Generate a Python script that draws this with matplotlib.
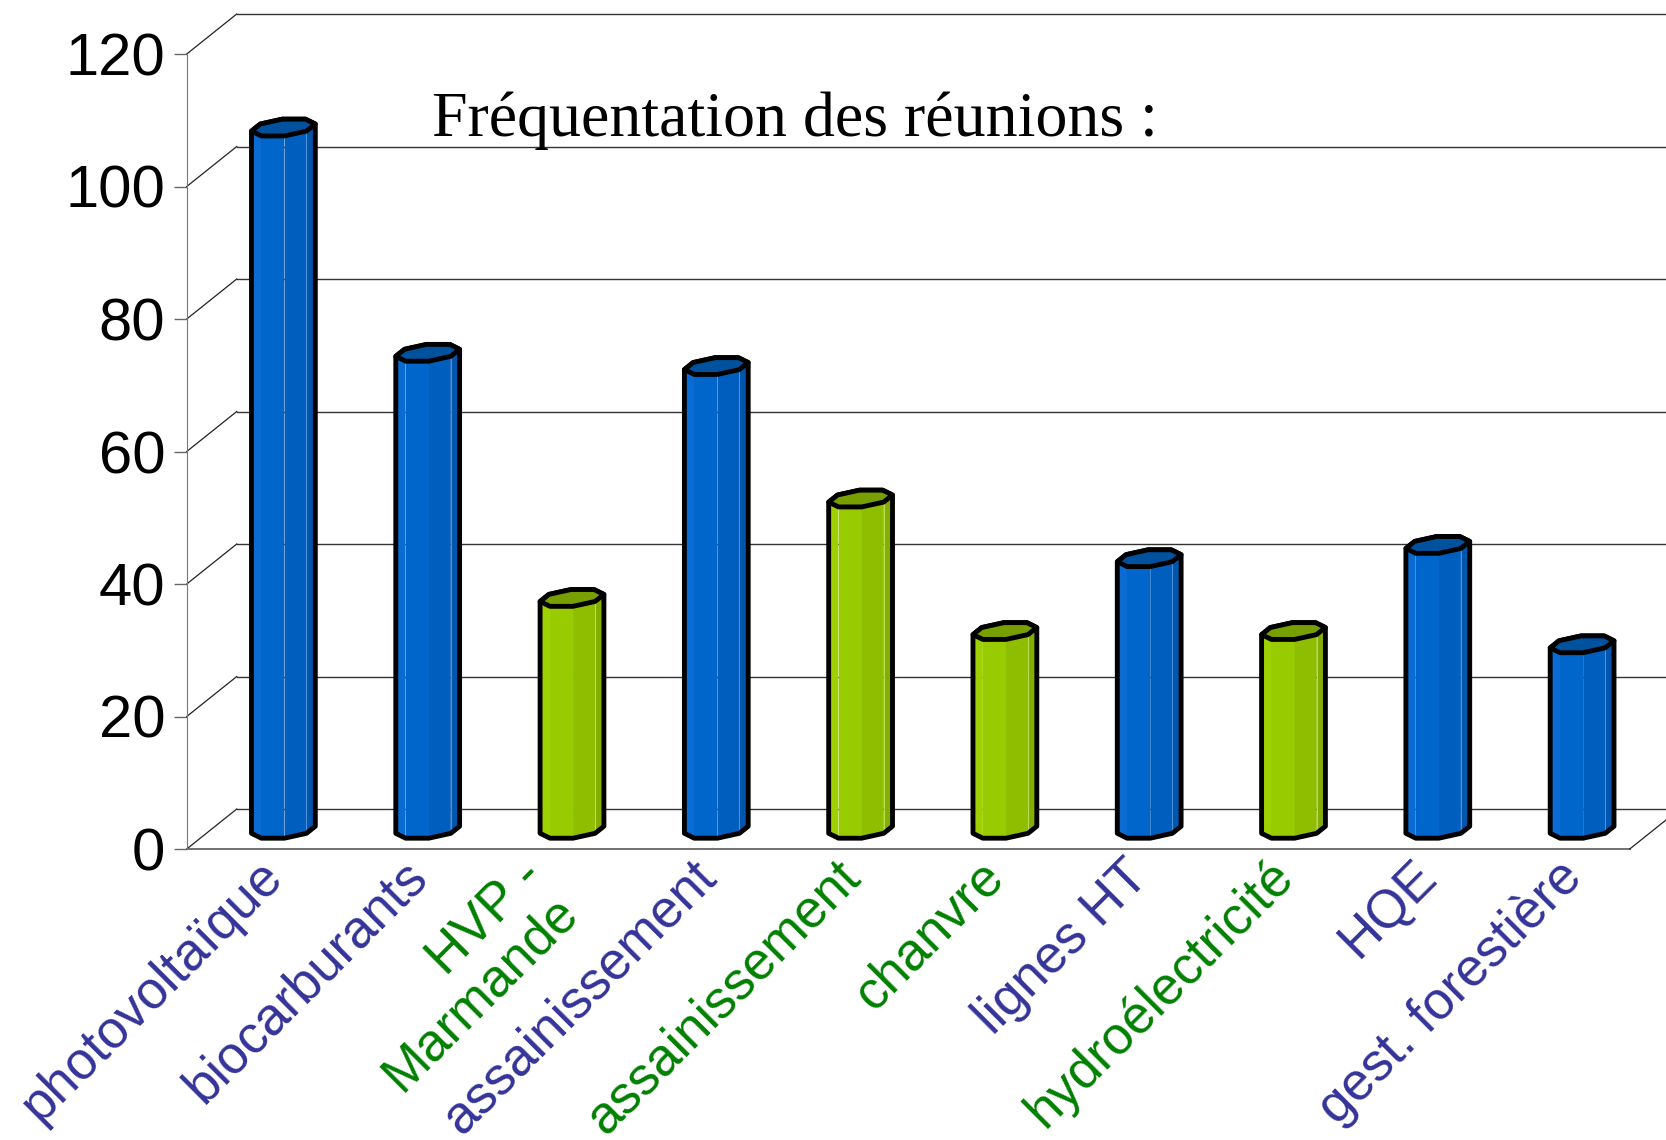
import matplotlib
matplotlib.use("Agg")
import matplotlib.pyplot as plt
from matplotlib.patches import Polygon

# --- data -------------------------------------------------------------
categories = ["photovoltaïque", "biocarburants", "HVP -\nMarmande",
              "assainissement", "assainissement", "chanvre", "lignes HT",
              "hydroélectricité", "HQE", "gest. forestière"]
attendance = [106, 72, 35, 70, 50, 30, 41, 30, 43, 28]
groups = ["blue", "blue", "green", "blue", "green",
          "green", "blue", "green", "blue", "blue"]
y_ticks = [0, 20, 40, 60, 80, 100, 120]
title = "Fréquentation des réunions :"

# colours per group: faces left->right, highlight line, top cap
palette = {
    "blue": dict(faces=["#0a6bd2", "#0066cc", "#005fbe", "#0056ad"],
                 line="#4d8fd6", top="#00529f", text="#333399"),
    "green": dict(faces=["#9fd000", "#99cc00", "#8fbd00", "#84ae00"],
                  line="#b8dd55", top="#779f00", text="#008000"),
}

# --- fake 3d geometry (data units) -------------------------------------
PX_CAT = 144.3        # pixels per category
PX_VAL = 6.625        # pixels per value unit
DX = 50 / PX_CAT      # full depth shift in x
DY = 40 / PX_VAL      # full depth shift in y
D0, BAR_D = 0.27, 0.42
BAR_W = 55 / PX_CAT
BAR_X0 = -27 / PX_CAT
CUT = 0.29

fig = plt.figure(figsize=(16.66, 11.40), dpi=100)
ax = fig.add_axes([0, 0, 1, 1])
ax.set_xlim(-258.9 / PX_CAT, (1666 - 258.9) / PX_CAT)
ax.set_ylim((849 - 1140) / PX_VAL, 849 / PX_VAL)
ax.patch.set_alpha(0)

left, right = -0.5, len(categories) - 0.5

# back wall gridlines + diagonals to the front axis
for v in y_ticks:
    ax.plot([left + DX, right + DX + 1], [v + DY, v + DY],
            color="#333333", lw=1.0, zorder=1)
    ax.plot([left, left + DX], [v, v + DY], color="#222222", lw=0.9, zorder=1)
# floor
ax.plot([left, right], [0, 0], color="#666666", lw=1.3, zorder=1)
ax.plot([right, right + DX], [0, DY], color="#222222", lw=0.9, zorder=1)

# front y axis
for s in ["top", "right", "bottom"]:
    ax.spines[s].set_visible(False)
ax.spines["left"].set_position(("data", left))
ax.spines["left"].set_bounds(0, 120)
ax.spines["left"].set_color("#777777")
ax.set_yticks(y_ticks)
ax.tick_params(axis="y", direction="out", length=9.5, width=1, color="#666666",
               pad=6, labelsize=43)
for lab in ax.get_yticklabels():
    lab.set_fontfamily("Liberation Sans")
ax.set_xticks([])


def draw_bar(i, value, pal):
    uv = [(CUT, 0), (1 - CUT, 0), (1, CUT), (1, 1 - CUT),
          (1 - CUT, 1), (CUT, 1), (0, 1 - CUT), (0, CUT)]
    x0 = i + BAR_X0
    base = [(x0 + u * BAR_W + (D0 + v * BAR_D) * DX, (D0 + v * BAR_D) * DY)
            for u, v in uv]
    bot = base
    top = [(x, y + value) for x, y in base]

    # visible side faces: H-A, A-B, B-C, C-D
    for k, (a, b) in enumerate([(7, 0), (0, 1), (1, 2), (2, 3)]):
        ax.add_patch(Polygon([bot[a], bot[b], top[b], top[a]], closed=True,
                             facecolor=pal["faces"][k], edgecolor="none",
                             zorder=3))
    # thin highlight line
    ax.plot([bot[2][0], top[2][0]], [bot[2][1], top[2][1]],
            color=pal["line"], lw=0.8, zorder=4)

    outline = [bot[7], bot[0], bot[1], bot[2], bot[3],
               top[3], top[4], top[5], top[6], top[7]]
    ax.add_patch(Polygon(outline, closed=True, facecolor="none",
                         edgecolor="black", lw=3.5, joinstyle="round",
                         zorder=5))
    ax.add_patch(Polygon(top, closed=True, facecolor=pal["top"],
                         edgecolor="black", lw=3.5, joinstyle="round",
                         zorder=6))


for i, (val, g) in enumerate(zip(attendance, groups)):
    draw_bar(i, val, palette[g])

# category labels (multi-line blocks sit a bit further left)
for i, (name, g) in enumerate(zip(categories, groups)):
    extra = name.count("\n") * 0.2
    ax.text(i - 0.01 - extra, -0.3, name, rotation=45, rotation_mode="anchor",
            ha="right", va="top", fontsize=38, family="Liberation Sans",
            color=palette[g]["text"], linespacing=1.0)

fig.text(432 / 1666, 1 - 136 / 1140, title, family="Liberation Serif",
         fontsize=46, va="baseline", ha="left")

fig.savefig("out.png", dpi=100, facecolor="white")
